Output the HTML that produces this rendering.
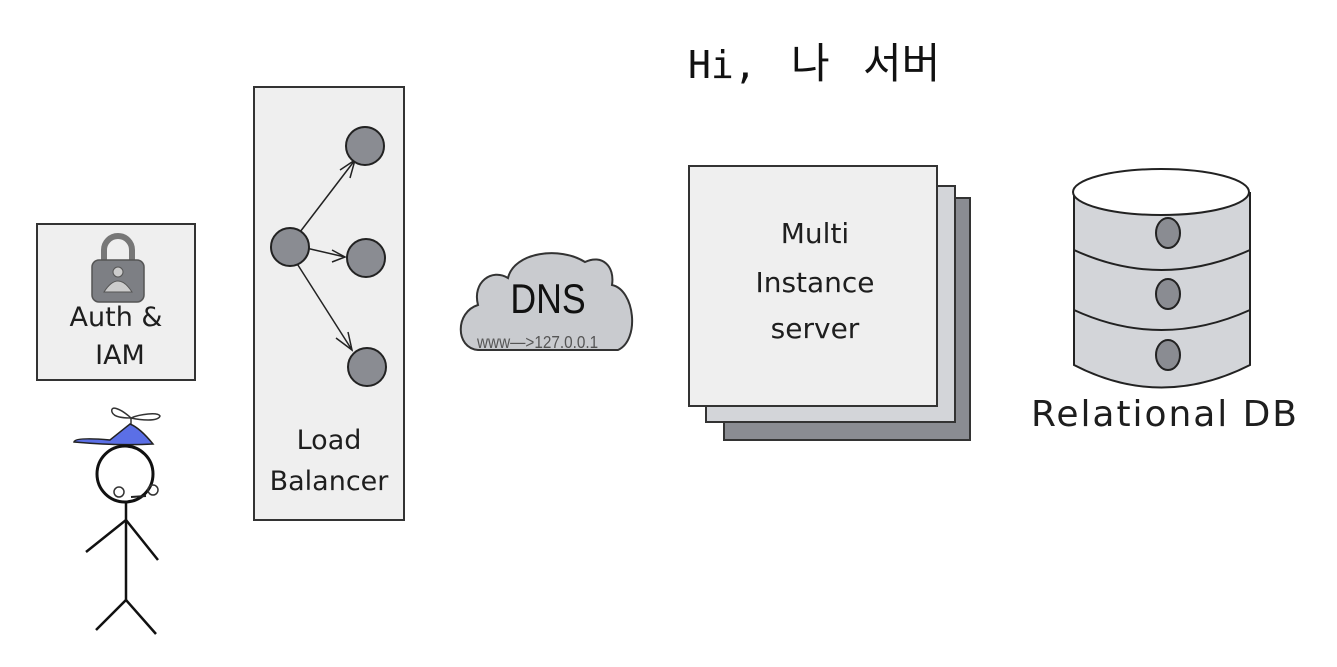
<!DOCTYPE html>
<html><head><meta charset="utf-8"><style>
html,body{margin:0;padding:0;background:#fff;}
svg{display:block}
.h{font-family:"DejaVu Sans","Liberation Sans",sans-serif;fill:#1e1e1e;}
</style></head><body>
<svg width="1337" height="667" viewBox="0 0 1337 667" xmlns="http://www.w3.org/2000/svg">
<text x="688" y="78" font-family="'DejaVu Sans Mono',monospace" font-size="38" fill="#111">Hi,</text>
<text x="791" y="78" font-family="'Noto Sans CJK KR',sans-serif" font-size="42" fill="#111">나</text>
<text x="863" y="78" font-family="'Noto Sans CJK KR',sans-serif" font-size="42" fill="#111">서버</text>

<!-- Auth box -->
<rect x="37" y="224" width="158" height="156" fill="#efefef" stroke="#333" stroke-width="2"/>
<path d="M104 262 v-12 a14 14 0 0 1 28 0 v12" fill="none" stroke="#777" stroke-width="6"/>
<rect x="92" y="260" width="52" height="42" rx="7" fill="#7d7f84" stroke="#555" stroke-width="1.5"/>
<circle cx="118" cy="272" r="5" fill="#ccc" stroke="#555"/>
<path d="M104 292 q14 -22 28 0 z" fill="#ccc" stroke="#555"/>
<text class="h" x="116" y="326" font-size="27" text-anchor="middle">Auth &amp;</text>
<text class="h" x="120" y="364" font-size="27" text-anchor="middle">IAM</text>

<!-- stick figure -->
<path d="M131 418 C120 408 110 405 112 412 C114 418 126 418 131 418 C140 414 158 412 160 416 C158 422 140 420 131 418" fill="#fff" stroke="#333" stroke-width="1.5"/>
<line x1="131" y1="418" x2="131" y2="424" stroke="#333" stroke-width="1.5"/>
<path d="M74 442 Q75 437 110 440 L130 424 Q140 428 153 444 Q120 446 74 442 Z" fill="#5b6fe6" stroke="#222" stroke-width="1.5"/>
<circle cx="125" cy="474" r="28" fill="#fff" stroke="#111" stroke-width="3"/>
<circle cx="119" cy="492" r="5" fill="none" stroke="#333" stroke-width="1.5"/>
<circle cx="153" cy="490" r="5" fill="none" stroke="#333" stroke-width="1.5"/>
<line x1="131" y1="497" x2="146" y2="496" stroke="#222" stroke-width="2"/>
<g stroke="#111" stroke-width="2.5" fill="none">
<line x1="126" y1="502" x2="126" y2="602"/>
<polyline points="86,552 126,520 158,560"/>
<polyline points="96,630 126,600 156,634"/>
</g>

<!-- Load balancer -->
<rect x="254" y="87" width="150" height="433" fill="#efefef" stroke="#333" stroke-width="2"/>
<g stroke="#222" stroke-width="1.5" fill="none">
<line x1="300" y1="232" x2="355" y2="160"/><polyline points="340,170 355,160 350,178"/>
<line x1="306" y1="248" x2="345" y2="257"/><polyline points="332,250 345,257 332,262"/>
<line x1="296" y1="262" x2="352" y2="350"/><polyline points="348,332 352,350 336,338"/>
</g>
<g fill="#8a8c92" stroke="#222" stroke-width="2">
<circle cx="365" cy="146" r="19"/><circle cx="290" cy="247" r="19"/>
<circle cx="366" cy="258" r="19"/><circle cx="367" cy="367" r="19"/>
</g>
<text class="h" x="329" y="449" font-size="27" text-anchor="middle">Load</text>
<text class="h" x="329" y="490" font-size="27" text-anchor="middle">Balancer</text>

<!-- DNS cloud -->
<path d="M478 350 C455 348 455 312 478 305 C472 282 492 268 508 278 C514 252 560 246 585 262 C602 254 615 266 612 285 C635 290 640 340 618 350 Z" fill="#c9cbcf" stroke="#333" stroke-width="2"/>
<text transform="translate(548 313) scale(0.85 1)" font-family="'Liberation Sans',sans-serif" font-size="42" fill="#111" text-anchor="middle">DNS</text>
<text transform="translate(477 348) scale(0.85 1)" font-family="'Liberation Sans',sans-serif" font-size="18" fill="#555">www—&gt;127.0.0.1</text>

<!-- Server stack -->
<rect x="724" y="198" width="246" height="242" fill="#8a8c92" stroke="#333" stroke-width="2"/>
<rect x="706" y="186" width="249" height="236" fill="#d3d5d9" stroke="#333" stroke-width="2"/>
<rect x="689" y="166" width="248" height="240" fill="#efefef" stroke="#333" stroke-width="2"/>
<text class="h" x="815" y="243" font-size="28" text-anchor="middle">Multi</text>
<text class="h" x="815" y="292" font-size="28" text-anchor="middle">Instance</text>
<text class="h" x="815" y="338" font-size="28" text-anchor="middle">server</text>

<!-- DB -->
<path d="M1074 192 V365 Q1161 410 1250 365 V192" fill="#d3d5d9" stroke="#222" stroke-width="2"/>
<path d="M1074 250 Q1161 290 1250 250 M1074 310 Q1161 350 1250 310" fill="none" stroke="#222" stroke-width="2"/>
<ellipse cx="1161" cy="192" rx="88" ry="23" fill="#fff" stroke="#222" stroke-width="2"/>
<g fill="#8a8c92" stroke="#222" stroke-width="2">
<ellipse cx="1168" cy="233" rx="12" ry="15"/><ellipse cx="1168" cy="294" rx="12" ry="15"/><ellipse cx="1168" cy="355" rx="12" ry="15"/>
</g>
<text class="h" x="1164" y="426" font-size="36" text-anchor="middle" textLength="266">Relational DB</text>
</svg>
</body></html>
